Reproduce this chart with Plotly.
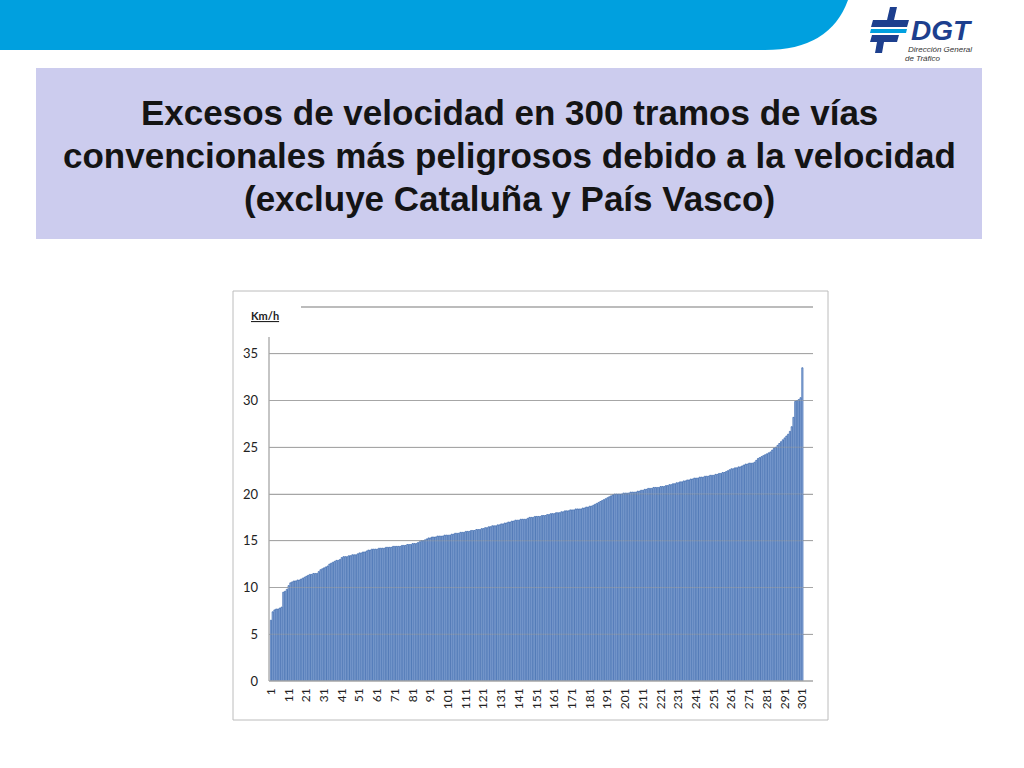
import plotly.graph_objects as go

# ---------------- data ----------------
tramos = list(range(1, 302))
exceso_kmh = [
    6.5, 7.4, 7.6, 7.7, 7.7, 7.8, 7.9, 9.5, 9.6, 9.8,
    10.2, 10.5, 10.6, 10.7, 10.7, 10.8, 10.8, 10.9, 11.0, 11.1,
    11.2, 11.3, 11.4, 11.4, 11.5, 11.5, 11.5, 11.7, 11.9, 12.0,
    12.1, 12.2, 12.3, 12.5, 12.6, 12.7, 12.8, 12.9, 12.9, 13.0,
    13.2, 13.3, 13.3, 13.3, 13.4, 13.4, 13.5, 13.5, 13.5, 13.6,
    13.7, 13.7, 13.8, 13.8, 13.9, 14.0, 14.0, 14.1, 14.1, 14.1,
    14.1, 14.2, 14.2, 14.2, 14.2, 14.3, 14.3, 14.3, 14.3, 14.4,
    14.4, 14.4, 14.4, 14.4, 14.5, 14.5, 14.5, 14.6, 14.6, 14.6,
    14.7, 14.7, 14.7, 14.8, 14.9, 15.0, 15.0, 15.1, 15.2, 15.3,
    15.3, 15.4, 15.4, 15.4, 15.5, 15.5, 15.5, 15.5, 15.6, 15.6,
    15.6, 15.6, 15.7, 15.7, 15.8, 15.8, 15.8, 15.9, 15.9, 15.9,
    16.0, 16.0, 16.0, 16.1, 16.1, 16.1, 16.2, 16.2, 16.2, 16.3,
    16.3, 16.4, 16.4, 16.5, 16.5, 16.6, 16.6, 16.6, 16.7, 16.7,
    16.8, 16.8, 16.9, 16.9, 17.0, 17.0, 17.1, 17.1, 17.2, 17.2,
    17.2, 17.3, 17.3, 17.3, 17.3, 17.4, 17.5, 17.5, 17.5, 17.6,
    17.6, 17.6, 17.6, 17.7, 17.7, 17.7, 17.8, 17.8, 17.9, 17.9,
    17.9, 18.0, 18.0, 18.0, 18.1, 18.1, 18.2, 18.2, 18.2, 18.3,
    18.3, 18.3, 18.4, 18.4, 18.4, 18.4, 18.5, 18.5, 18.6, 18.6,
    18.7, 18.7, 18.8, 18.9, 19.0, 19.1, 19.2, 19.3, 19.4, 19.5,
    19.6, 19.7, 19.8, 19.9, 20.0, 20.0, 20.0, 20.0, 20.0, 20.1,
    20.1, 20.1, 20.1, 20.2, 20.2, 20.2, 20.2, 20.3, 20.3, 20.4,
    20.4, 20.5, 20.5, 20.6, 20.6, 20.6, 20.7, 20.7, 20.7, 20.7,
    20.8, 20.8, 20.8, 20.9, 20.9, 21.0, 21.0, 21.1, 21.1, 21.2,
    21.2, 21.3, 21.3, 21.4, 21.4, 21.5, 21.5, 21.6, 21.6, 21.7,
    21.7, 21.7, 21.8, 21.8, 21.8, 21.9, 21.9, 21.9, 22.0, 22.0,
    22.0, 22.1, 22.1, 22.2, 22.2, 22.3, 22.3, 22.4, 22.5, 22.6,
    22.7, 22.7, 22.8, 22.8, 22.9, 22.9, 23.0, 23.1, 23.2, 23.2,
    23.3, 23.3, 23.3, 23.4, 23.6, 23.8, 23.9, 24.0, 24.1, 24.2,
    24.3, 24.4, 24.5, 24.7, 24.9, 25.0, 25.2, 25.4, 25.6, 25.8,
    26.0, 26.2, 26.4, 26.7, 27.2, 28.2, 29.9, 30.0, 30.1, 30.3, 33.5,
]
x_tick_vals = [1, 11, 21, 31, 41, 51, 61, 71, 81, 91, 101, 111, 121, 131, 141, 151,
               161, 171, 181, 191, 201, 211, 221, 231, 241, 251, 261, 271, 281, 291, 301]
x_tick_text = ["1", "11", "21", "31", "41", "51", "61", "71", "81", "91", "101", "111",
               "121", "131", "141", "151", "161", "171", "181", "191", "201", "211",
               "221", "231", "241", "251", "261", "271", "281", "291", "301"]
y_tick_vals = [0, 5, 10, 15, 20, 25, 30, 35]
y_tick_text = ["0", "5", "10", "15", "20", "25", "30", "35"]

title_lines = [
    "Excesos de velocidad en 300 tramos de vías",
    "convencionales más peligrosos debido a la velocidad",
    "(excluye Cataluña y País Vasco)",
]
unit_label = "Km/h"

# ---------------- layout geometry (pixels) ----------------
W, H = 1024, 768
PL, PR, PT, PB = 269, 813, 307, 681   # plot area edges in pixels


def X(px):
    return (px - PL) / (PR - PL)


def Y(py):
    return (PB - py) / (PB - PT)


NAVY = "#1d3f8e"
SKY = "#00a0df"
GRID = "#a6a6a6"

fig = go.Figure()
fig.add_trace(go.Bar(
    x=tramos, y=exceso_kmh,
    marker=dict(color="#a9c1e6", line=dict(width=0.7, color="#3463aa")),
    hoverinfo="x+y",
))

shapes = []
# blue banner
shapes.append(dict(type="path", xref="paper", yref="paper", layer="below",
                   path=f"M {X(0)},{Y(0)} L {X(848)},{Y(0)} Q {X(830)},{Y(50)} {X(765)},{Y(50)} L {X(0)},{Y(50)} Z",
                   fillcolor=SKY, line=dict(width=0)))
# lavender title box
shapes.append(dict(type="rect", xref="paper", yref="paper", layer="below",
                   x0=X(36), x1=X(982), y0=Y(239), y1=Y(68),
                   fillcolor="#ccccee", line=dict(width=0)))
# chart frame
shapes.append(dict(type="rect", xref="paper", yref="paper", layer="below",
                   x0=X(233), x1=X(828), y0=Y(720), y1=Y(291),
                   fillcolor="white", line=dict(color="#bcbcbc", width=1)))
# top gridline (40) starting after unit label
shapes.append(dict(type="line", xref="paper", yref="paper", layer="below",
                   x0=X(301), x1=X(813), y0=Y(307), y1=Y(307),
                   line=dict(color=GRID, width=1.3)))
# gridlines shown through the narrow bars
for v in y_tick_vals[1:]:
    shapes.append(dict(type="line", xref="paper", yref="y", layer="above",
                       x0=0, x1=1, y0=v, y1=v,
                       line=dict(color=GRID, width=1), opacity=0.5))
# y axis line
shapes.append(dict(type="line", xref="paper", yref="paper", layer="above",
                   x0=X(269), x1=X(269), y0=Y(681), y1=Y(337),
                   line=dict(color=GRID, width=1.3)))
# x axis baseline
shapes.append(dict(type="line", xref="paper", yref="paper", layer="above",
                   x0=X(269), x1=X(813), y0=Y(681), y1=Y(681),
                   line=dict(color=GRID, width=1.3)))


def poly(pts, color):
    p = "M " + " L ".join(f"{X(a)},{Y(b)}" for a, b in pts) + " Z"
    return dict(type="path", xref="paper", yref="paper", layer="above",
                path=p, fillcolor=color, line=dict(width=0))


# DGT logo symbol
shapes.append(poly([(890, 7), (897, 7), (894, 20), (887, 20)], NAVY))
shapes.append(poly([(873, 20), (909, 20), (907, 27), (871, 27)], NAVY))
shapes.append(poly([(871, 29), (907, 29), (906, 33), (870, 33)], SKY))
shapes.append(poly([(872, 35), (899, 35), (897, 42), (870, 42)], NAVY))
shapes.append(poly([(877, 42), (884, 42), (882, 53), (875, 53)], NAVY))

fig.update_layout(shapes=shapes)

annotations = []
title_y = [113, 156, 198]
for line, ty in zip(title_lines, title_y):
    annotations.append(dict(text=line, xref="paper", yref="paper", x=X(509), y=Y(ty),
                            xanchor="center", yanchor="middle", showarrow=False,
                            font=dict(family="Liberation Sans, Arial", size=35,
                                      color="#141414", weight="bold")))
annotations.append(dict(text="<b><u>" + unit_label + "</u></b>", xref="paper", yref="paper",
                        x=X(265), y=Y(315), xanchor="center", yanchor="middle",
                        showarrow=False,
                        font=dict(family="Lato, Open Sans", size=11, color="#222")))
annotations.append(dict(text="DGT", xref="paper", yref="paper", x=X(909), y=Y(30),
                        xanchor="left", yanchor="middle", showarrow=False,
                        font=dict(family="Liberation Sans, Arial", size=28, color=NAVY,
                                  weight="bold", style="italic")))
annotations.append(dict(text="Dirección General", xref="paper", yref="paper", x=X(906), y=Y(50),
                        xanchor="left", yanchor="middle", showarrow=False,
                        font=dict(family="Liberation Sans, Arial", size=8, color="#333",
                                  style="italic")))
annotations.append(dict(text="de Tráfico", xref="paper", yref="paper", x=X(903), y=Y(58),
                        xanchor="left", yanchor="middle", showarrow=False,
                        font=dict(family="Liberation Sans, Arial", size=8, color="#333",
                                  style="italic")))
fig.update_layout(annotations=annotations)

fig.update_layout(
    width=W, height=H, autosize=False,
    margin=dict(l=PL, r=W - PR, t=PT, b=H - PB, pad=0),
    paper_bgcolor="white", plot_bgcolor="rgba(0,0,0,0)",
    showlegend=False, bargap=0.3,
    xaxis=dict(range=[-0.1, 307], tickmode="array", tickvals=x_tick_vals,
               ticktext=x_tick_text, tickangle=-90, showgrid=False, zeroline=False,
               showline=False, ticks="", ticklabelstandoff=4,
               tickfont=dict(family="Lato, Open Sans", size=12, color="#222")),
    yaxis=dict(range=[0, 40], tickmode="array", tickvals=y_tick_vals,
               ticktext=y_tick_text, showgrid=True, gridcolor=GRID, gridwidth=1.3,
               zeroline=False, showline=False, ticks="", ticklabelstandoff=10,
               tickfont=dict(family="Lato, Open Sans", size=13, color="#222")),
)

fig.write_html("out.html", config={"displayModeBar": False},
               post_script="document.body.style.margin='0';document.body.style.overflow='hidden';")
